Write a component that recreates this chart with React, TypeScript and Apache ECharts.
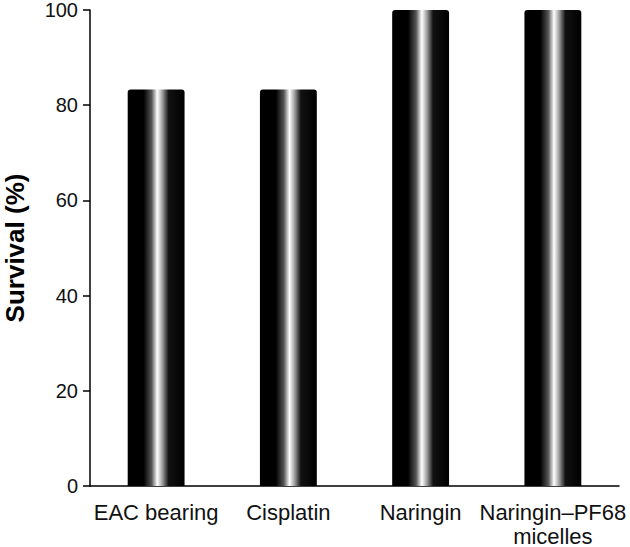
import React, { useEffect, useRef } from "react";
import * as echarts from "echarts";

const categories = ["EAC bearing", "Cisplatin", "Naringin", "Naringin\u2013PF68\nmicelles"];
const survival = [83.3, 83.3, 100, 100];
const yTicks = { min: 0, max: 100, interval: 20 };

export default function App() {
  const ref = useRef<HTMLDivElement>(null);
  useEffect(() => {
    const chart = echarts.init(ref.current!, null, { renderer: "svg" });
    const grad = new echarts.graphic.LinearGradient(0, 0, 1, 0, [
      { offset: 0, color: "#000" },
      { offset: 0.28, color: "#000" },
      { offset: 0.42, color: "#555" },
      { offset: 0.52, color: "#fff" },
      { offset: 0.6, color: "#aaa" },
      { offset: 0.72, color: "#111" },
      { offset: 1, color: "#000" },
    ]);
    const font = "Liberation Sans, Arial, sans-serif";
    chart.setOption({
      animation: false,
      grid: { left: 90, right: 11, top: 10, bottom: 61, containLabel: false, outerBoundsMode: "none" },
      xAxis: {
        type: "category",
        data: categories,
        axisLine: { lineStyle: { color: "#000", width: 1.5 } },
        axisTick: { length: 8, lineStyle: { color: "#000", width: 1.5 } },
        axisLabel: {
          color: "#111",
          fontSize: 22,
          fontFamily: font,
          margin: 14,
          lineHeight: 24,
          interval: 0,
        },
      },
      yAxis: {
        type: "value",
        min: yTicks.min,
        max: yTicks.max,
        interval: yTicks.interval,
        name: "Survival (%)",
        nameLocation: "middle",
        nameGap: 62,
        nameTextStyle: {
          color: "#000",
          fontSize: 26,
          fontWeight: "bold",
          fontFamily: font,
        },
        splitLine: { show: false },
        axisLine: { show: true, lineStyle: { color: "#000", width: 1.5 } },
        axisTick: { show: true, length: 7, lineStyle: { color: "#000", width: 1.5 } },
        axisLabel: {
          color: "#111",
          fontSize: 20,
          lineHeight: 18,
          fontFamily: font,
          margin: 12,
        },
      },
      series: [
        {
          type: "bar",
          data: survival,
          barWidth: "43%",
          itemStyle: { color: grad, borderRadius: [3, 3, 0, 0] },
        },
      ],
    });
    return () => chart.dispose();
  }, []);
  return <div ref={ref} style={{ width: 630, height: 547, position: "absolute", left: 0, top: 0 }} />;
}
